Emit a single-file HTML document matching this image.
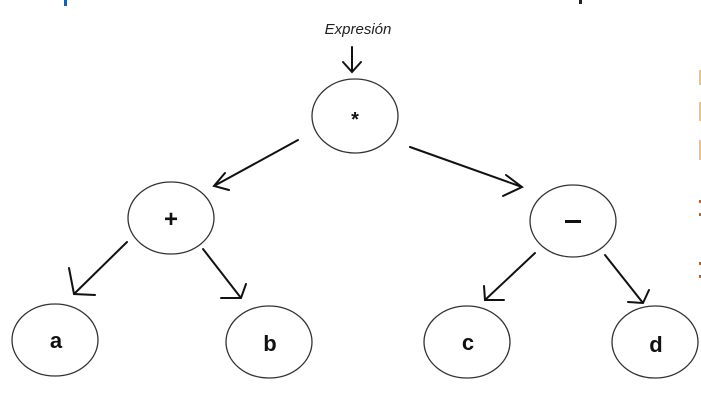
<!DOCTYPE html>
<html><head><meta charset="utf-8"><style>
html,body{margin:0;padding:0;background:#fff;}
svg{display:block;}
</style></head><body>
<svg width="701" height="409" viewBox="0 0 701 409" xmlns="http://www.w3.org/2000/svg">
<rect x="0" y="0" width="701" height="409" fill="#fff"/>
<rect x="64" y="0" width="3" height="6" fill="#1a5fa8"/>
<rect x="579" y="0" width="3" height="4" fill="#222"/>
<rect x="699" y="70" width="2" height="15" fill="#f7c26a"/>
<rect x="699" y="102" width="2" height="19" fill="#f7c26a"/>
<rect x="699" y="140" width="2" height="20" fill="#f7c26a"/>
<rect x="699" y="200" width="2" height="3" fill="#c06018"/>
<rect x="699" y="213" width="2" height="3" fill="#c06018"/>
<rect x="699" y="262" width="2" height="3" fill="#c06018"/>
<rect x="699" y="275" width="2" height="3" fill="#c06018"/>
<text x="358" y="34" text-anchor="middle" font-family="Liberation Sans, sans-serif" font-style="italic" font-size="15" fill="#222">Expresión</text>
<g fill="none" stroke="#111" stroke-width="2" stroke-linecap="round">
<path d="M352 47 L352 72 M343 62 L352 72 L361 62"/>
<path d="M298 140 L214 186 M225 173 L214 186 L229 190"/>
<path d="M410 147 L522 187 M506 175 L522 187 L503 196"/>
<path d="M127 242 L74 294 M69 268 L74 294 L95 295"/>
<path d="M203 249 L241 298 M246 284 L241 298 L221 298"/>
<path d="M535 253 L485 300 M484 286 L485 300 L504 300"/>
<path d="M605 255 L643 303 M649 290 L643 303 L628 302"/>
</g>
<g fill="none" stroke="#333" stroke-width="1.3">
<ellipse cx="355" cy="116" rx="43" ry="37"/>
<ellipse cx="171" cy="218" rx="43" ry="36"/>
<ellipse cx="573" cy="221" rx="43" ry="36"/>
<ellipse cx="55" cy="340" rx="43" ry="36"/>
<ellipse cx="269" cy="342" rx="43" ry="36"/>
<ellipse cx="467" cy="342" rx="43" ry="36"/>
<ellipse cx="655" cy="342" rx="43" ry="36"/>
</g>
<g font-family="Liberation Sans, sans-serif" font-weight="bold" fill="#111" text-anchor="middle">
<text x="355" y="126" font-size="20">*</text>
<text x="171" y="227" font-size="24">+</text>
<rect x="565" y="220" width="16" height="3" fill="#111"/>
<text x="56" y="348" font-size="22">a</text>
<text x="270" y="351" font-size="22">b</text>
<text x="468" y="350" font-size="22">c</text>
<text x="656" y="352" font-size="22">d</text>
</g>
</svg>
</body></html>
